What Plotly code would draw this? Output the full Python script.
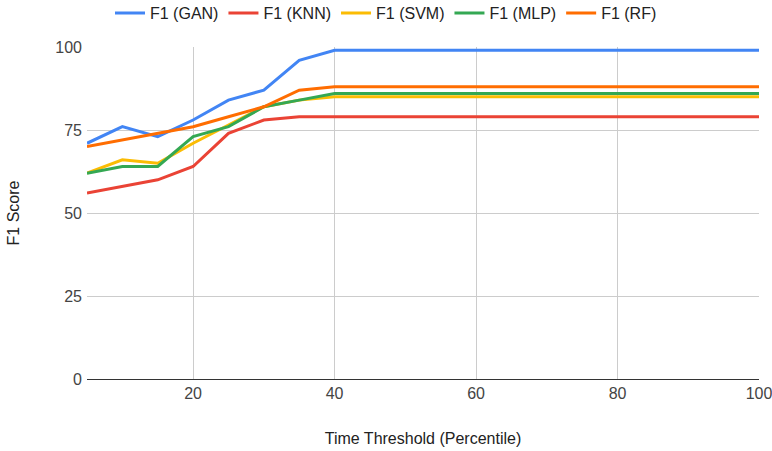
import plotly.graph_objects as go

x_vals = [5, 10, 15, 20, 25, 30, 35, 40, 45, 50, 55, 60, 65, 70, 75, 80, 85, 90, 95, 100]
f1_gan = [71, 76, 73, 78, 84, 87, 96, 99, 99, 99, 99, 99, 99, 99, 99, 99, 99, 99, 99, 99]
f1_knn = [56, 58, 60, 64, 74, 78, 79, 79, 79, 79, 79, 79, 79, 79, 79, 79, 79, 79, 79, 79]
f1_svm = [62, 66, 65, 71, 76.5, 82, 84, 85, 85, 85, 85, 85, 85, 85, 85, 85, 85, 85, 85, 85]
f1_mlp = [62, 64, 64, 73, 76, 82, 84, 86, 86, 86, 86, 86, 86, 86, 86, 86, 86, 86, 86, 86]
f1_rf = [70, 72, 74, 76, 79, 82, 87, 88, 88, 88, 88, 88, 88, 88, 88, 88, 88, 88, 88, 88]
x_ticks = [20, 40, 60, 80, 100]
y_ticks = [0, 25, 50, 75, 100]

series = [
    ("F1 (GAN)", f1_gan, "#4285F4"),
    ("F1 (KNN)", f1_knn, "#EA4335"),
    ("F1 (SVM)", f1_svm, "#FBBC04"),
    ("F1 (MLP)", f1_mlp, "#34A853"),
    ("F1 (RF)", f1_rf, "#FF6D01"),
]

FONT = "Liberation Sans, Arial, sans-serif"

fig = go.Figure()
for name, vals, color in series:
    fig.add_trace(go.Scatter(x=x_vals, y=vals, name=name, mode="lines",
                             line=dict(color=color, width=3)))

fig.update_layout(
    width=772, height=451,
    margin=dict(l=87, r=13, t=47, b=72, autoexpand=False),
    paper_bgcolor="white", plot_bgcolor="white",
    font=dict(family=FONT, size=16, color="#222222"),
    legend=dict(orientation="h", x=0.5, xanchor="center", xref="container",
                y=1.102, yanchor="middle", yref="paper",
                font=dict(size=16, color="#222222"),
                itemwidth=30, tracegroupgap=0),
    xaxis=dict(range=[5, 100], tickvals=x_ticks, automargin=False,
               showgrid=True, gridcolor="#cccccc", gridwidth=1,
               zeroline=False, showline=True, linecolor="#333333", linewidth=1,
               ticks="", ticklabeloverflow="allow",
               tickfont=dict(size=16, color="#444444"),
               title=dict(text="Time Threshold (Percentile)",
                          font=dict(size=16, color="#222222"), standoff=31)),
    yaxis=dict(range=[0, 100], tickvals=y_ticks, automargin=False,
               showgrid=True, gridcolor="#cccccc", gridwidth=1,
               zeroline=False, showline=False, ticks="", ticklabelstandoff=4,
               tickfont=dict(size=16, color="#444444"),
               title=dict(text="F1 Score", font=dict(size=16, color="#222222"), standoff=31)),
)

fig.write_html("out.html", config={"displayModeBar": False},
               post_script="document.body.style.margin='0';")
